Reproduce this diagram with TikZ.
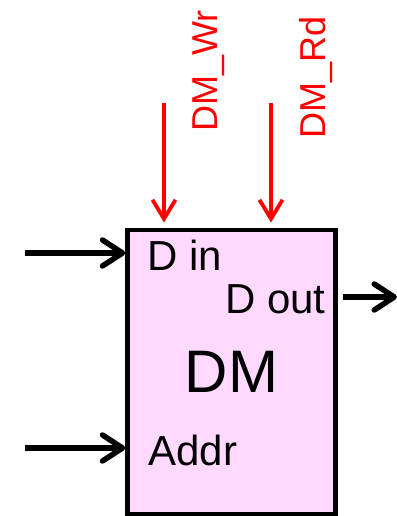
\documentclass[tikz,border=0pt]{standalone}
\usepackage{fontspec}
\setmainfont{Liberation Sans}
\usetikzlibrary{arrows.meta}
\definecolor{dmpink}{RGB}{255,217,255}

\begin{document}
\begin{tikzpicture}[x=0.5pt,y=-0.5pt,
  blk/.style={rectangle,draw,line width=2.25pt,fill=dmpink,minimum width=104pt,minimum height=142.25pt,inner sep=0pt},
  lbl/.style={inner sep=0pt,font=\fontsize{21pt}{25pt}\selectfont},
  sig/.style={line width=2.75pt,-{Straight Barb[length=10pt,width=13pt,round]}},
  ctl/.style={red,line width=1.9pt,-{Straight Barb[length=9.5pt,width=11.5pt]}},
  ctltxt/.style={red,inner sep=0pt,rotate=90,anchor=base west,font=\fontsize{18pt}{21pt}\selectfont}]
  \useasboundingbox (0,0) rectangle (397,516);
  \node[blk,font=\fontsize{30pt}{34pt}\selectfont] (dm) at (231.5,372) {DM};
  \node[lbl,anchor=base west] (din) at (147,270) {D in};
  \node[lbl,anchor=base east] (dout) at (326,313) {D out};
  \node[lbl,anchor=base west] (addr) at (148,465) {Addr};

  % data and address inputs
  \coordinate (din-src) at (25,253);
  \coordinate (addr-src) at (25,448);
  \draw[sig] (din-src) -- (din-src -| dm.west);
  \draw[sig] (addr-src) -- (addr-src -| dm.west);

  % data output
  \coordinate (dout-dst) at (397,297);
  \draw[sig,shorten <=2.5pt] (dout-dst -| dm.east) -- (dout-dst);

  % control signals
  \node[ctltxt] (wr) at (218,132) {DM\_Wr};
  \node[ctltxt] (rd) at (326,139) {DM\_Rd};
  \coordinate (wr-src) at (164,103);
  \coordinate (rd-src) at (271,103);
  \draw[ctl,shorten >=2.5pt] (wr-src) -- (wr-src |- dm.north);
  \draw[ctl,shorten >=2.5pt] (rd-src) -- (rd-src |- dm.north);
\end{tikzpicture}
\end{document}
